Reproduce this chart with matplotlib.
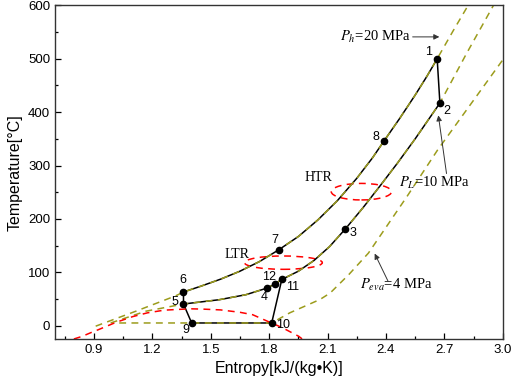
import matplotlib
matplotlib.use("Agg")
import matplotlib.pyplot as plt
from matplotlib.patches import Ellipse

plt.rcParams['font.family'] = ['Liberation Sans', 'DejaVu Sans']
plt.rcParams['mathtext.fontset'] = 'stix'

# state points of the cycle: entropy [kJ/(kg K)], temperature [C]
state_id = ['1', '2', '3', '4', '5', '6', '7', '8', '9', '10', '11', '12']
state_s = [2.663, 2.677, 2.191, 1.790, 1.360, 1.360, 1.849, 2.390, 1.402, 1.813, 1.865, 1.829]
state_T = [500, 417, 181, 70.5, 40.5, 63, 142, 346, 5, 5, 86.5, 78]
label_s = [2.621, 2.711, 2.231, 1.776, 1.317, 1.355, 1.827, 2.351, 1.372, 1.870, 1.922, 1.801]
label_T = [512, 402, 173, 53, 43.6, 86, 161, 353, -9, 2, 72, 92]

# high pressure side 6-7-8-1
hot_s = [1.360, 1.45, 1.55, 1.65, 1.75, 1.849, 1.95, 2.05, 2.15, 2.25, 2.33, 2.390,
         2.47, 2.55, 2.61, 2.663]
hot_T = [63, 74, 87, 102, 120, 142, 167, 198, 234, 276, 314, 346, 388, 432, 467, 500]
# low pressure hot stream 2-3-11
lp_s = [2.677, 2.62, 2.55, 2.46, 2.37, 2.28, 2.191, 2.11, 2.03, 1.95, 1.865]
lp_T = [417, 387, 350, 305, 262, 220, 181, 148, 122, 102, 86.5]
# low pressure cold stream 5-4-12-11
cold_s = [1.360, 1.544, 1.681, 1.790, 1.829, 1.865]
cold_T = [40.5, 48.6, 58, 70.5, 78, 86.5]
# straight legs of the cycle: 1-2, 11-10-9-5-6
leg_s = [[2.663, 2.677], [1.865, 1.813, 1.402, 1.360, 1.360]]
leg_T = [[500, 417], [86.5, 5, 5, 40.5, 63]]

# isobars (dashed olive)
ph_s = [0.909, 1.115, 1.321] + hot_s + [2.746, 2.822]
ph_T = [-1, 27, 56] + hot_T + [553, 600]
pl_s = [0.986, 1.166] + cold_s + lp_s[::-1][1:] + [2.814, 2.952]
pl_T = [5, 27] + cold_T + lp_T[::-1][1:] + [510, 600]
pe_s = [1.03, 1.402, 1.813, 1.906, 2.061, 2.113, 2.21, 2.31, 2.508, 2.665, 3.0]
pe_T = [5, 5, 5, 24, 49, 61, 96, 136, 242, 329, 498]

# saturation dome (dashed red)
dome_s = [0.797, 0.84, 0.90, 0.92, 1.012, 1.10, 1.175, 1.261, 1.338, 1.40, 1.458, 1.55,
          1.65, 1.715, 1.793, 1.85, 1.884, 1.952, 1.97]
dome_T = [-25, -20, -10.7, -8, 6, 17, 24, 29, 30.5, 31.5, 31, 29.5, 25, 20.5, 8, -1, -7, -20, -25]

# recuperators
hx_name = ['HTR', 'LTR']
hx_s = [2.274, 1.873]
hx_T = [251, 118]
hx_w = [0.31, 0.40]
hx_h = [31, 25]
hx_lab_s = [2.054, 1.634]
hx_lab_T = [277, 133]

# pressure labels
p_text = ['$P_h$=20 MPa', '$P_L$=10 MPa', '$P_{eva}$=4 MPa']
p_text_s = [2.343, 2.648, 2.455]
p_text_T = [541, 267, 77]
p_tail_s = [2.537, 2.711, 2.411]
p_tail_T = [541, 285, 83]
p_tip_s = [2.674, 2.669, 2.342]
p_tip_T = [541, 394, 135]

olive = '#9c9c1c'
fig = plt.figure(figsize=(5.12, 3.86), dpi=100)
ax = fig.add_axes([0.1074, 0.1218, 0.8746, 0.8642])

# cycle in black
ax.plot(hot_s, hot_T, c='black', lw=1.1)
ax.plot(lp_s, lp_T, c='black', lw=1.1)
ax.plot(cold_s, cold_T, c='black', lw=1.1)
for xs, ys in zip(leg_s, leg_T):
	ax.plot(xs, ys, c='black', lw=1.1)

# isobars over the top
for xs, ys in [(ph_s, ph_T), (pl_s, pl_T), (pe_s, pe_T)]:
	ax.plot(xs, ys, c=olive, lw=1.1, dashes=(4.5, 3.5))
ax.plot(dome_s, dome_T, c='red', lw=1.1, dashes=(4.5, 3.5))

for i in range(len(hx_name)):
	ax.add_patch(Ellipse((hx_s[i], hx_T[i]), hx_w[i], hx_h[i], fill=False,
		ec='red', lw=1.1, ls=(0, (4.5, 3.5))))
	ax.text(hx_lab_s[i], hx_lab_T[i], hx_name[i], family='Liberation Serif',
		fontsize=10, ha='center', va='center')

ax.plot(state_s, state_T, 'o', c='black', ms=4.5, zorder=5)
for i in range(len(state_id)):
	ax.text(label_s[i], label_T[i], state_id[i], fontsize=9, ha='center', va='center')

for i in range(len(p_text)):
	ax.text(p_text_s[i], p_text_T[i], p_text[i], family='Liberation Serif',
		fontsize=10.5, ha='center', va='center')
	ax.annotate('', xy=(p_tip_s[i], p_tip_T[i]), xytext=(p_tail_s[i], p_tail_T[i]),
		arrowprops=dict(arrowstyle='-|>', color='#333333', lw=0.7,
			mutation_scale=8, shrinkA=0, shrinkB=0))

ax.set_xlim(0.7, 3.0)
ax.set_ylim(-25, 600)
ax.set_xticks([0.9, 1.2, 1.5, 1.8, 2.1, 2.4, 2.7, 3.0])
ax.set_xticks([0.75, 1.05, 1.35, 1.65, 1.95, 2.25, 2.55, 2.85], minor=True)
ax.set_yticks([0, 100, 200, 300, 400, 500, 600])
ax.set_yticks([50, 150, 250, 350, 450, 550], minor=True)
ax.tick_params(which='both', direction='in', top=False, right=False, labelsize=9.5)
ax.tick_params(which='major', length=4, width=0.9)
ax.tick_params(which='minor', length=2.5, width=0.9)
ax.set_xlabel('Entropy[kJ/(kg\u2022K)]', fontsize=11.5, labelpad=4)
ax.set_ylabel('Temperature[\u00b0C]', fontsize=11.5, labelpad=4)
for sp in ax.spines.values():
	sp.set_linewidth(1.0)
	sp.set_color('#333333')

fig.savefig('out.png', dpi=100)
